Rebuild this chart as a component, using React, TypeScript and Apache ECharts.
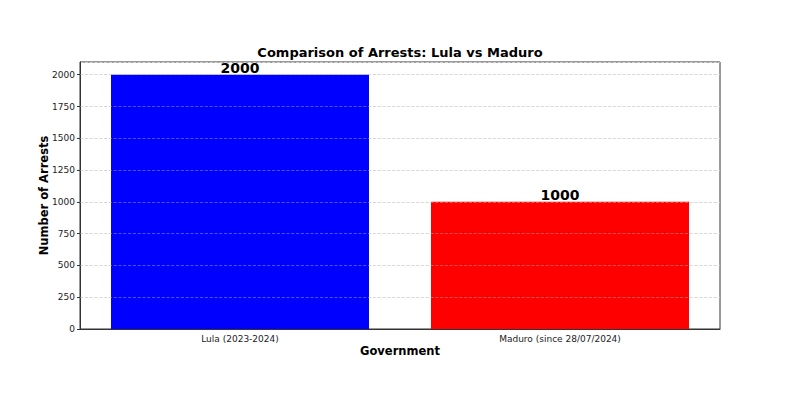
import React, { useEffect, useRef } from "react";
import * as echarts from "echarts";

const categories = ["Lula (2023-2024)", "Maduro (since 28/07/2024)"];
const arrests = [2000, 1000];
const barColors = ["#0000ff", "#ff0000"];
const yTicks = [250, 500, 750, 1000, 1250, 1500, 1750, 2000];

const FONT = "DejaVu Sans";

export default function App() {
  const ref = useRef<HTMLDivElement>(null);
  useEffect(() => {
    const chart = echarts.init(ref.current!, null, { renderer: "svg" });
    chart.setOption({
      animation: false,
      backgroundColor: "#ffffff",
      textStyle: { fontFamily: FONT },
      title: {
        text: "Comparison of Arrests: Lula vs Maduro",
        left: "center",
        top: 41,
        textStyle: { fontFamily: FONT, fontSize: 13, fontWeight: "bold", color: "#000" },
      },
      grid: {
        left: 80,
        right: 80,
        top: 62,
        bottom: 83,
        show: true,
        borderColor: "#333",
        borderWidth: 1,
        backgroundColor: "transparent",
      },
      xAxis: {
        type: "category",
        data: categories,
        name: "Government",
        nameLocation: "middle",
        nameGap: 16,
        nameMoveOverlap: false,
        nameTextStyle: { fontFamily: FONT, fontSize: 11.5, fontWeight: "bold", color: "#000" },
        axisLine: { lineStyle: { color: "#333" } },
        axisTick: { alignWithLabel: true, length: 3, lineStyle: { color: "#333" } },
        axisLabel: { fontFamily: FONT, fontSize: 9, color: "#222", margin: 5 },
        splitLine: { show: false },
      },
      yAxis: {
        type: "value",
        min: 0,
        max: 2100,
        interval: 250,
        name: "Number of Arrests",
        nameLocation: "middle",
        nameGap: 30,
        nameMoveOverlap: false,
        nameTextStyle: { fontFamily: FONT, fontSize: 11.5, fontWeight: "bold", color: "#000" },
        axisLine: { show: true, lineStyle: { color: "#333" } },
        axisTick: { show: true, length: 3, lineStyle: { color: "#333" } },
        axisLabel: {
          fontFamily: FONT,
          fontSize: 9,
          color: "#222",
          margin: 5,
          showMaxLabel: false,
          formatter: (v: number) => (v > 2000 ? "" : String(v)),
        },
        splitLine: { show: true, lineStyle: { color: "#dddddd", type: "dashed", width: 0.8 } },
      },
      series: [
        {
          type: "bar",
          barWidth: 258,
          data: arrests.map((v, i) => ({ value: v, itemStyle: { color: barColors[i] } })),
          label: {
            show: true,
            position: "top",
            distance: 0,
            fontFamily: FONT,
            fontSize: 14,
            fontWeight: "bold",
            color: "#000",
          },
          markLine: {
            silent: true,
            symbol: "none",
            label: { show: false },
            lineStyle: { color: "rgba(200,200,200,0.5)", type: "dashed", width: 0.8 },
            data: yTicks.map((t) => ({ yAxis: t })),
          },
        },
      ],
    });
    return () => chart.dispose();
  }, []);
  return (
    <div
      ref={ref}
      style={{ position: "fixed", left: 0, top: 0, width: 800, height: 412 }}
    />
  );
}
